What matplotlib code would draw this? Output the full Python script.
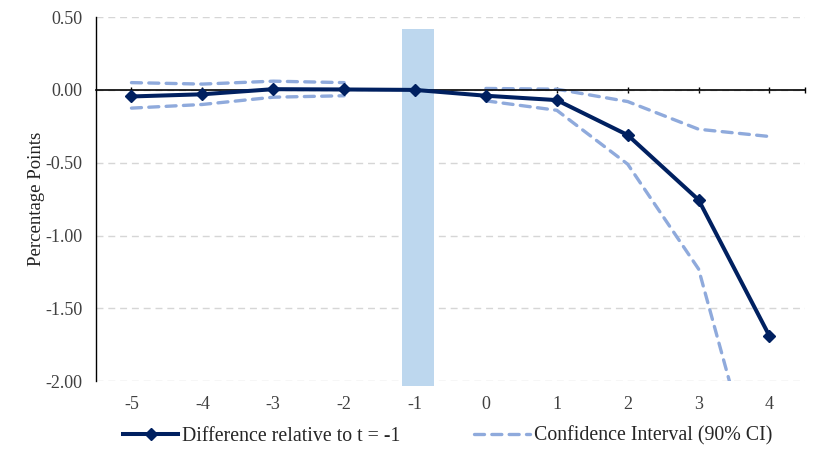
import numpy as np
import matplotlib.pyplot as plt
from matplotlib.lines import Line2D

# event time (categories)
t = [-5, -4, -3, -2, -1, 0, 1, 2, 3, 4]
labels = ["-5", "-4", "-3", "-2", "-1", "0", "1", "2", "3", "4"]

# point estimates, relative to t = -1
diff = [-0.045, -0.03, 0.005, 0.003, 0.0, -0.04, -0.07, -0.31, -0.755, -1.69]
# 90% CI bounds (no value at t = -1)
ci_hi = [0.05, 0.04, 0.06, 0.05, np.nan, 0.01, 0.005, -0.08, -0.27, -0.32]
ci_lo = [-0.125, -0.10, -0.05, -0.04, np.nan, -0.075, -0.14, -0.51, -1.23, -3.0]

navy = "#002060"
light = "#8FAADC"
shade = "#BDD7EE"
dash = (0, (3, 2.2))

plt.rcParams["font.family"] = ["Liberation Serif", "DejaVu Serif"]

fig = plt.figure(figsize=(8.18, 4.5), dpi=100)
ax = fig.add_axes([0.1174, 0.153, 0.8666, 0.809])

# highlighted reference period
ax.bar(-0.96, 2.45, bottom=-2.03, width=0.45, color=shade, zorder=1, clip_on=False)

for ci in (ci_hi, ci_lo):
    ax.plot(t, ci, color=light, lw=2.4, ls=dash, dash_capstyle="round", zorder=2)
ax.plot(t, diff, color=navy, lw=2.9, marker="D", ms=6.5, zorder=3)

ax.set_xlim(-5.5, 4.5)
ax.set_ylim(-2.0, 0.5)
ax.set_yticks([0.5, 0.0, -0.5, -1.0, -1.5, -2.0])
ax.set_yticklabels(["0.50", "0.00", "-0.50", "-1.00", "-1.50", "-2.00"])
ax.yaxis.grid(True, color="#D6D6D6", ls=(0, (5, 3.5)), lw=1)
ax.set_axisbelow(True)

for s in ["top", "right"]:
    ax.spines[s].set_visible(False)
ax.spines["left"].set_color("black")
ax.spines["left"].set_linewidth(1)
ax.spines["bottom"].set_position(("data", 0))
ax.spines["bottom"].set_linewidth(1.2)
ax.spines["bottom"].set_zorder(2.5)

ax.set_xticks(t + [4.5])
ax.tick_params(axis="x", labelbottom=False, direction="inout", length=5, width=1)
ax.tick_params(axis="y", length=0, pad=10, labelsize=13, colors="#404040")

sec = ax.secondary_xaxis("bottom")
sec.set_xticks(t)
sec.set_xticklabels(labels)
sec.tick_params(length=0, pad=11, labelsize=13, colors="#404040")
sec.spines["bottom"].set_visible(False)

ax.set_ylabel("Percentage Points", fontsize=13.5, color="#222222", labelpad=0)

handles = [
    Line2D([], [], color=navy, lw=2.9, marker="D", ms=6.5),
    Line2D([], [], color=light, lw=2.4, ls=dash, dash_capstyle="round"),
]
fig.legend(handles, ["Difference relative to t = -1", "Confidence Interval (90% CI)"],
           loc="center", bbox_to_anchor=(0.547, 0.031), ncol=2, frameon=False,
           fontsize=14.3, handlelength=2.8, columnspacing=3.7, handletextpad=0.2,
           labelcolor="#262626")

fig.savefig("out.png", dpi=100)
